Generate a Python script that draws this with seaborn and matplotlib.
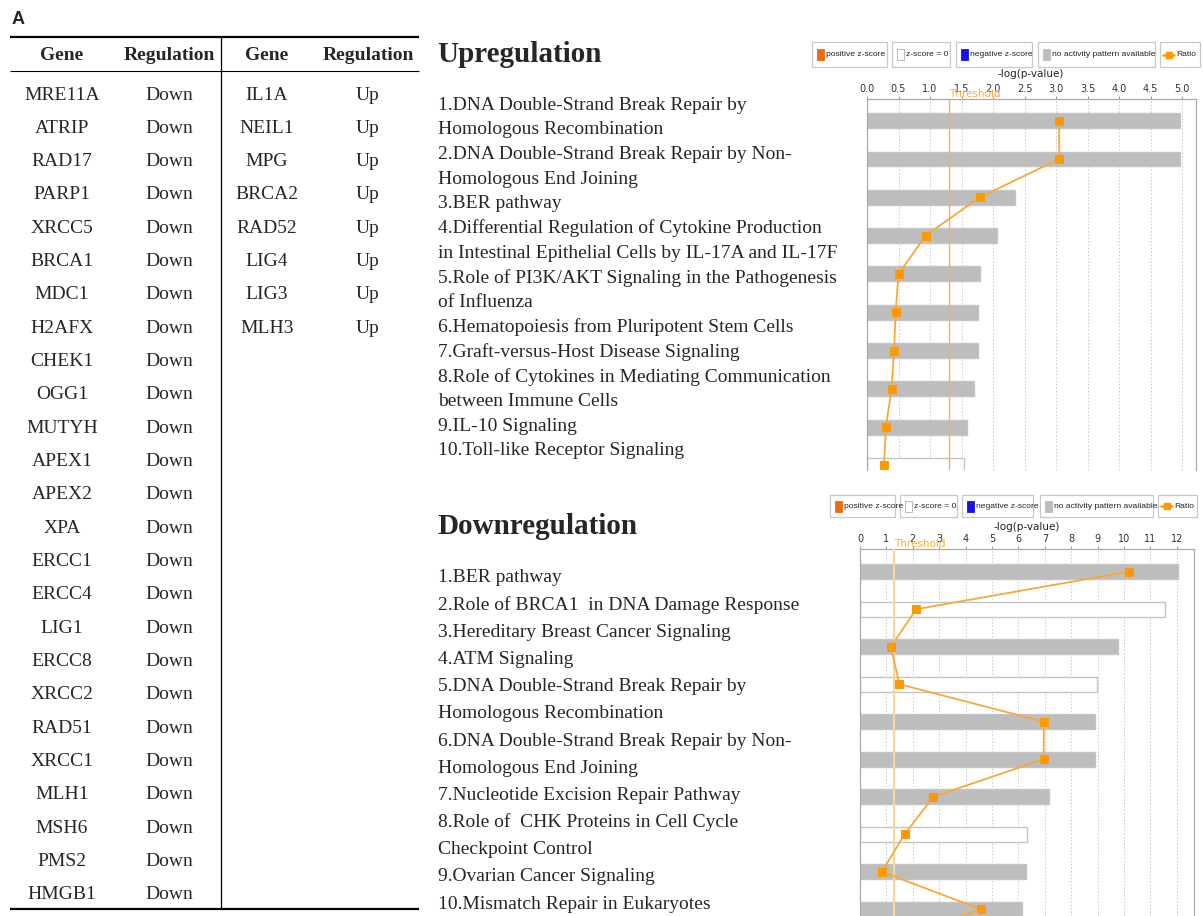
import numpy as np
import pandas as pd
import matplotlib
matplotlib.use("Agg")
import matplotlib.pyplot as plt
import seaborn as sns
from matplotlib.patches import Rectangle

# ---------------- data ----------------
down_genes = ["MRE11A", "ATRIP", "RAD17", "PARP1", "XRCC5", "BRCA1", "MDC1", "H2AFX",
              "CHEK1", "OGG1", "MUTYH", "APEX1", "APEX2", "XPA", "ERCC1", "ERCC4",
              "LIG1", "ERCC8", "XRCC2", "RAD51", "XRCC1", "MLH1", "MSH6", "PMS2", "HMGB1"]
up_genes = ["IL1A", "NEIL1", "MPG", "BRCA2", "RAD52", "LIG4", "LIG3", "MLH3"]
table_headers = ["Gene", "Regulation", "Gene", "Regulation"]

up_text_lines = [
    "1.DNA Double-Strand Break Repair by",
    "Homologous Recombination",
    "2.DNA Double-Strand Break Repair by Non-",
    "Homologous End Joining",
    "3.BER pathway",
    "4.Differential Regulation of Cytokine Production",
    "in Intestinal Epithelial Cells by IL-17A and IL-17F",
    "5.Role of PI3K/AKT Signaling in the Pathogenesis",
    "of Influenza",
    "6.Hematopoiesis from Pluripotent Stem Cells",
    "7.Graft-versus-Host Disease Signaling",
    "8.Role of Cytokines in Mediating Communication",
    "between Immune Cells",
    "9.IL-10 Signaling",
    "10.Toll-like Receptor Signaling",
]
down_text_lines = [
    "1.BER pathway",
    "2.Role of BRCA1  in DNA Damage Response",
    "3.Hereditary Breast Cancer Signaling",
    "4.ATM Signaling",
    "5.DNA Double-Strand Break Repair by",
    "Homologous Recombination",
    "6.DNA Double-Strand Break Repair by Non-",
    "Homologous End Joining",
    "7.Nucleotide Excision Repair Pathway",
    "8.Role of  CHK Proteins in Cell Cycle",
    "Checkpoint Control",
    "9.Ovarian Cancer Signaling",
    "10.Mismatch Repair in Eukaryotes",
]

up_logp = [4.96, 4.96, 2.35, 2.07, 1.80, 1.76, 1.76, 1.70, 1.59, 1.54]
up_ratio = [3.05, 3.05, 1.79, 0.93, 0.50, 0.455, 0.43, 0.39, 0.30, 0.27]
up_activity = ["none"] * 9 + ["zero"]

down_logp = [12.05, 11.55, 9.76, 8.96, 8.91, 8.91, 7.17, 6.33, 6.29, 6.15]
down_ratio = [10.18, 2.13, 1.17, 1.49, 6.96, 6.96, 2.78, 1.69, 0.83, 4.57, 0.5]
down_activity = ["none", "zero", "none", "zero", "none", "none", "none", "zero", "none", "none"]

threshold = 1.30
up_ticks = [0.0, 0.5, 1.0, 1.5, 2.0, 2.5, 3.0, 3.5, 4.0, 4.5, 5.0]
down_ticks = list(range(0, 13))
legend_labels = ["positive z-score", "z-score = 0", "negative z-score",
                 "no activity pattern available", "Ratio"]

# ---------------- style ----------------
sns.set_style("white")
plt.rcParams["font.family"] = ["DejaVu Sans"]
SERIF = ["Liberation Serif", "DejaVu Serif"]
NARROW = ["Liberation Sans", "DejaVu Sans"]

W, H = 1203, 916
fig = plt.figure(figsize=(W / 100, H / 100), dpi=100)
fig.patch.set_facecolor("white")

ax0 = fig.add_axes([0, 0, 1, 1])
ax0.set_xlim(0, W)
ax0.set_ylim(H, 0)
ax0.axis("off")
ax0.patch.set_alpha(0)

# ---------------- panel label & table ----------------
ax0.text(12, 19, "A", fontsize=13, fontweight="bold", family=["Liberation Sans", "DejaVu Sans"],
         va="center", ha="left")
ax0.plot([10, 419], [37, 37], color="black", lw=1.6, solid_capstyle="butt")
ax0.plot([10, 419], [71, 71], color="black", lw=0.8, solid_capstyle="butt")
ax0.plot([10, 419], [909, 909], color="black", lw=1.6, solid_capstyle="butt")
ax0.plot([221, 221], [37, 909], color="black", lw=0.9)
col_x = [62, 169, 267, 368]
for cx, h in zip(col_x, table_headers):
    ax0.text(cx, 56, h, fontsize=14, fontweight="bold", family=SERIF, ha="center", va="center")
row_y0, row_dy = 95, 33.33
for i, g in enumerate(down_genes):
    y = row_y0 + i * row_dy
    ax0.text(col_x[0], y, g, fontsize=14, family=SERIF, ha="center", va="center")
    ax0.text(col_x[1], y, "Down", fontsize=14, family=SERIF, ha="center", va="center")
for i, g in enumerate(up_genes):
    y = row_y0 + i * row_dy
    ax0.text(col_x[2], y, g, fontsize=14, family=SERIF, ha="center", va="center")
    ax0.text(col_x[3], y, "Up", fontsize=14, family=SERIF, ha="center", va="center")

# ---------------- pathway text ----------------
ax0.text(437, 55, "Upregulation", fontsize=21, fontweight="bold", family=SERIF, ha="left", va="center")
for i, t in enumerate(up_text_lines):
    ax0.text(438, 105 + i * 24.7, t, fontsize=14, family=SERIF, ha="left", va="center")
ax0.text(437, 526, "Downregulation", fontsize=21, fontweight="bold", family=SERIF, ha="left", va="center")
for i, t in enumerate(down_text_lines):
    ax0.text(438, 578 + i * 27.17, t, fontsize=14, family=SERIF, ha="left", va="center")

# ---------------- legends ----------------
def draw_legend(boxes, y0, y1):
    cy = (y0 + y1) / 2
    sw_colors = ["#EE6A10", "#FFFFFF", "#1414E6", "#BDBDBD"]
    for k, (bx0, bx1) in enumerate(boxes):
        ax0.add_patch(Rectangle((bx0, y0), bx1 - bx0, y1 - y0, facecolor="white",
                                edgecolor="#C8C8C8", lw=0.9))
        if k < 4:
            ax0.add_patch(Rectangle((bx0 + 5, cy - 5.5), 7, 11, facecolor=sw_colors[k],
                                    edgecolor="#B0B0B0" if k == 1 else sw_colors[k], lw=0.6))
            tx = bx0 + 14
        else:
            ax0.plot([bx0 + 3, bx0 + 14], [cy, cy], color="#FF9900", lw=1.8)
            ax0.plot([bx0 + 8.5], [cy], marker="s", ms=5, color="#FF9900")
            tx = bx0 + 16
        ax0.text(tx, cy + 0.5, legend_labels[k], fontsize=6.1, family=NARROW, ha="left",
                 va="center", color="#222222")

draw_legend([(812, 887), (892, 950), (956, 1032), (1038, 1155), (1160, 1200)], 42, 67)
draw_legend([(830, 895), (900, 957), (962, 1033), (1040, 1153), (1158, 1197)], 495, 517)
ax0.text(1031, 74, "-log(p-value)", fontsize=7.5, ha="center", va="center", color="#222222")
ax0.text(1027, 527, "-log(p-value)", fontsize=7.5, ha="center", va="center", color="#222222")

# ---------------- charts ----------------
def draw_chart(rect, logp, ratio, activity, xmax, ylim, ticks, fmt, thr_color, thr_lw):
    ax = fig.add_axes([rect[0] / W, 1 - rect[3] / H, (rect[2] - rect[0]) / W, (rect[3] - rect[1]) / H])
    n = len(logp)
    df = pd.DataFrame({"rank": np.arange(n), "logp": logp, "activity": activity})
    sns.barplot(data=df, x="logp", y="rank", hue="activity", orient="y", native_scale=True,
                dodge=False, width=0.39, errorbar=None,
                palette={"none": "#BDBDBD", "zero": "#FFFFFF"},
                edgecolor="#C4C4C4", linewidth=1.0, legend=False, ax=ax, zorder=2)
    ax.axvline(threshold, color=thr_color, lw=thr_lw, zorder=3)
    dfr = pd.DataFrame({"rank": np.arange(len(ratio)), "ratio": ratio})
    sns.lineplot(data=dfr, x="ratio", y="rank", sort=False, estimator=None, color="#F8A838",
                 lw=1.3, marker="s", markersize=5.5, markerfacecolor="#FF9900",
                 markeredgecolor="#FF9900", ax=ax, zorder=4)
    ax.set_xlim(0, xmax)
    ax.set_ylim(*ylim)
    ax.xaxis.tick_top()
    ax.set_xticks(ticks)
    ax.set_xticklabels([fmt.format(t) for t in ticks])
    ax.tick_params(axis="x", length=2, width=0.6, pad=1.5, labelsize=7, colors="#888888",
                   labelcolor="#333333")
    ax.set_yticks([])
    ax.set_xlabel("")
    ax.set_ylabel("")
    ax.grid(axis="x", ls=(0, (1.5, 2)), color="#C8C8C8", lw=0.7)
    ax.grid(axis="y", visible=False)
    ax.set_axisbelow(True)
    for s in ["left", "top", "right"]:
        ax.spines[s].set_color("#AAAAAA")
        ax.spines[s].set_linewidth(0.9)
    ax.spines["bottom"].set_visible(False)
    ax.annotate("Threshold", xy=(threshold, 1), xycoords=("data", "axes fraction"),
                xytext=(0, 5), textcoords="offset pixels", ha="left", va="center",
                fontsize=7.5, color="#FFAA33")
    return ax

draw_chart((867, 99, 1196, 470), up_logp, up_ratio, up_activity, 5.22, (9.12, -0.567),
           up_ticks, "{:.1f}", "#F2B060", 1.0)
draw_chart((860, 549, 1194, 916), down_logp, down_ratio, down_activity, 12.65, (9.18, -0.605),
           down_ticks, "{:d}", "#F9D4A0", 1.6)

fig.savefig("out.png", dpi=100, facecolor="white")
